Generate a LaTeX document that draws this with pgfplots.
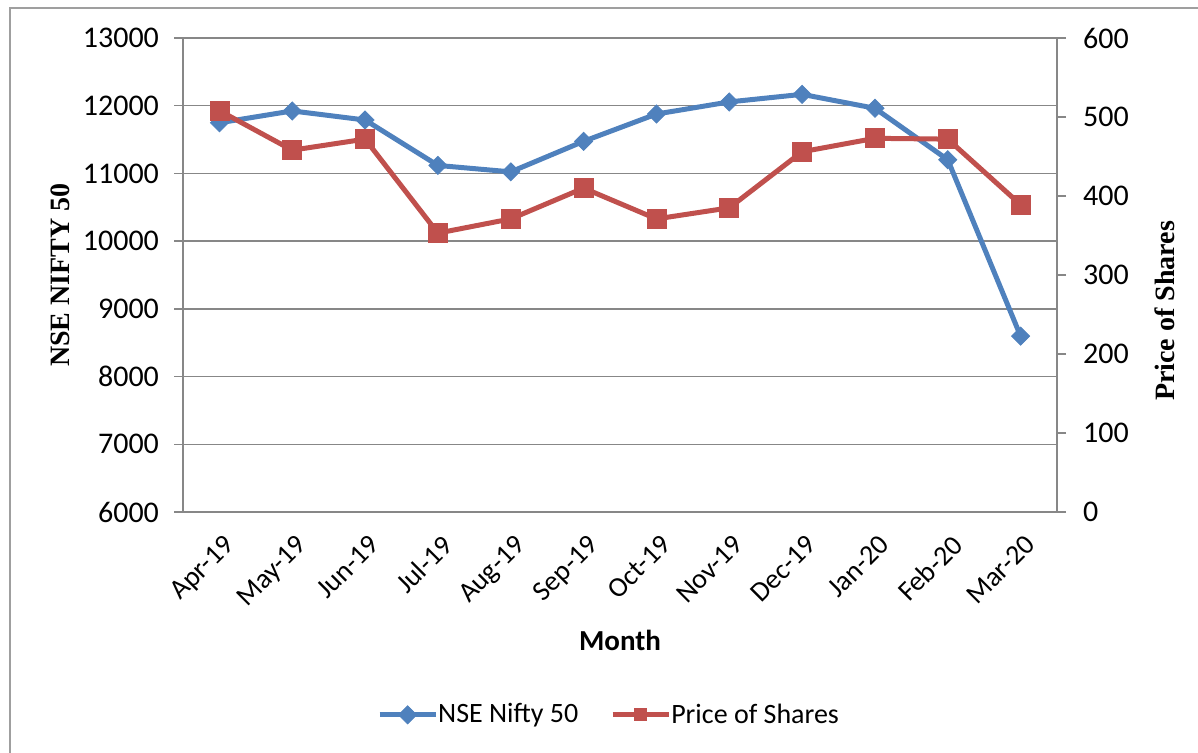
\documentclass[border=0pt]{standalone}
\usepackage{pgfplots}
\pgfplotsset{compat=1.18}
\usepackage{fontspec}
\setmainfont{Carlito}
\newfontfamily\timesfont{Liberation Serif}
\definecolor{xblue}{HTML}{4F81BD}
\definecolor{xred}{HTML}{C0504D}
\definecolor{axgray}{HTML}{878787}
\newcommand{\tickfont}{\fontsize{15}{17}\selectfont}
\newcommand{\xtickfont}{\fontsize{14}{16}\selectfont}
\begin{document}
\begin{tikzpicture}
\path[use as bounding box] (0,0) rectangle (599pt,376.5pt);
\draw[axgray!80, line width=0.8pt] (5pt,0) -- (5pt,372.5pt) -- (599pt,372.5pt);
\begin{axis}[
  at={(91.5pt,120.5pt)}, anchor=south west,
  scale only axis, width=437pt, height=237pt,
  xmin=-0.5, xmax=11.5, ymin=6000, ymax=13000,
  ytick={6000,7000,...,13000},
  scaled y ticks=false,
  xtick={0,...,11},
  xticklabels={Apr-19,May-19,Jun-19,Jul-19,Aug-19,Sep-19,Oct-19,Nov-19,Dec-19,Jan-20,Feb-20,Mar-20},
  x tick label style={rotate=45, anchor=north east, font=\xtickfont, xshift=0pt, yshift=-2pt},
  y tick label style={font=\tickfont, xshift=-4pt},
  xtick style={draw=none},
  ytick style={axgray, line width=0.7pt},
  major tick length=4.5pt, tick align=outside,
  ymajorgrids, grid style={axgray, line width=0.7pt},
  axis line style={axgray, line width=0.7pt},
  axis x line*=bottom, axis y line*=left,
  /pgf/number format/assume math mode=true,
  /pgf/number format/1000 sep={},
  xlabel={\bfseries Month}, xlabel style={font=\fontsize{14.5}{16}\selectfont, at={(rel axis cs:0.5,-0.27)}, anchor=center},
  ylabel={\timesfont\bfseries NSE NIFTY 50}, ylabel style={font=\fontsize{14}{16}\selectfont, at={(rel axis cs:-0.1405,0.5)}, anchor=center, rotate=0},
  legend style={at={(rel axis cs:0.4886,-0.428)}, anchor=center, draw=none, fill=none,
    font=\fontsize{14}{16}\selectfont, /tikz/every even column/.append style={column sep=14pt},
    /tikz/every odd column/.append style={column sep=-2pt}},
  legend columns=2,
  legend image code/.code={\draw[mark repeat=2,mark phase=2,#1] plot coordinates {(0pt,0pt)(14pt,0pt)(28pt,0pt)};},
]
\addplot[xblue, line width=2.5pt, mark=square*, mark size=3.2pt, mark options={solid, rotate=45, line width=0.4pt}]
coordinates {(0,11748) (1,11923) (2,11789) (3,11118) (4,11023) (5,11474) (6,11877) (7,12056) (8,12168) (9,11962) (10,11202) (11,8597)};
\addlegendentry{NSE Nifty 50}
\addlegendimage{xred, line width=2.5pt, mark=square*, mark size=3pt, mark options={solid, line width=0.4pt}}
\addlegendentry{Price of Shares}
\end{axis}
\begin{axis}[
  at={(91.5pt,120.5pt)}, anchor=south west,
  scale only axis, width=437pt, height=237pt,
  xmin=-0.5, xmax=11.5, ymin=0, ymax=600,
  ytick={0,100,...,600},
  axis x line=none, axis y line*=right,
  y tick label style={font=\tickfont, xshift=5pt},
  ytick style={axgray, line width=0.7pt},
  major tick length=4.5pt, tick align=outside,
  axis line style={axgray, line width=0.7pt},
  /pgf/number format/assume math mode=true,
  ylabel={\timesfont\bfseries Price of Shares}, ylabel style={font=\fontsize{14}{16}\selectfont, at={(rel axis cs:1.1236,0.424)}, anchor=center, rotate=0},
]
\addplot[xred, line width=2.5pt, mark=square*, mark size=4.75pt, mark options={solid, line width=0.4pt}]
coordinates {(0,508) (1,458) (2,472) (3,353) (4,371) (5,410) (6,371) (7,385) (8,456) (9,473) (10,472) (11,389)};
\end{axis}
\end{tikzpicture}
\end{document}
